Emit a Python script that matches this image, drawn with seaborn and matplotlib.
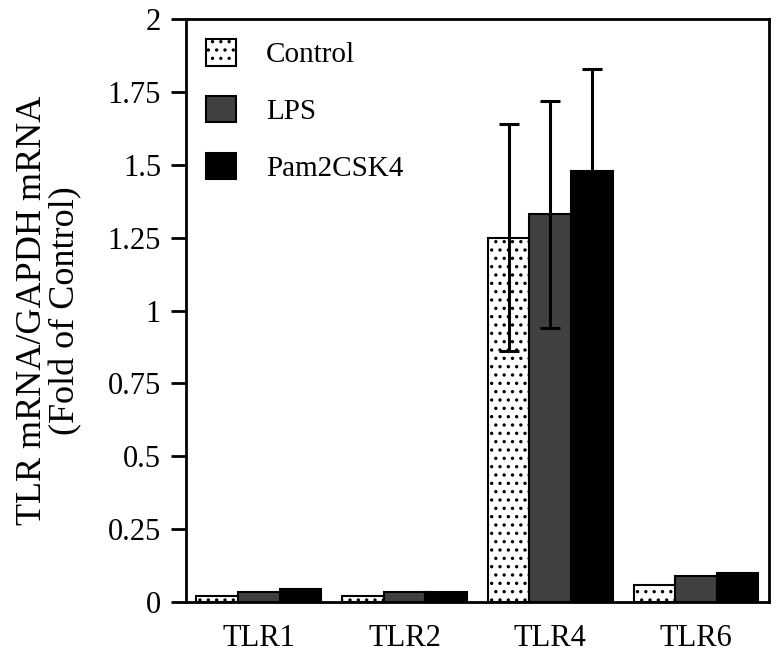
import numpy as np
import pandas as pd
import seaborn as sns
import matplotlib.pyplot as plt
from matplotlib.patches import Patch

sns.set_style("white")
plt.rcParams['font.family'] = ['Liberation Serif', 'DejaVu Serif']
plt.rcParams['hatch.linewidth'] = 1.2
plt.rcParams['text.color'] = 'black'
plt.rcParams['axes.labelcolor'] = 'black'
plt.rcParams['xtick.color'] = 'black'
plt.rcParams['ytick.color'] = 'black'

genes = ["TLR1", "TLR2", "TLR4", "TLR6"]
groups = ["Control", "LPS", "Pam2CSK4"]
control = [0.02, 0.02, 1.25, 0.06]
lps = [0.033, 0.033, 1.33, 0.09]
pam = [0.044, 0.033, 1.48, 0.10]
control_err = [0, 0, 0.39, 0]
lps_err = [0, 0, 0.39, 0]
pam_err = [0, 0, 0.35, 0]
yticks = [0, 0.25, 0.5, 0.75, 1, 1.25, 1.5, 1.75, 2]
ytick_labels = ["0", "0.25", "0.5", "0.75", "1", "1.25", "1.5", "1.75", "2"]

df = pd.DataFrame({
    "gene": genes * 3,
    "group": [g for g in groups for _ in genes],
    "value": control + lps + pam,
})
errs = control_err + lps_err + pam_err

colors = {"Control": "white", "LPS": "#404040", "Pam2CSK4": "black"}

fig = plt.figure(figsize=(7.79, 6.62), dpi=100)
ax = fig.add_axes([0.2388, 0.0906, 0.7482, 0.8807])

sns.barplot(data=df, x="gene", y="value", hue="group", order=genes,
            hue_order=groups, palette=colors, errorbar=None, width=0.857,
            edgecolor="black", linewidth=1.5, legend=False, ax=ax)

bars = ax.patches[:12]
for i, p in enumerate(bars):
    if i < 4:
        p.set_hatch("..")
    if errs[i] > 0:
        cx = p.get_x() + p.get_width() / 2
        ax.errorbar(cx, p.get_height(), yerr=errs[i], color="black",
                    elinewidth=2.2, capsize=7, capthick=2.2, fmt="none")

ax.set_ylim(0, 2)
ax.set_xlim(-0.5, 3.5)
ax.set_yticks(yticks)
ax.set_yticklabels(ytick_labels)
ax.set_xlabel("")
ax.set_ylabel("TLR mRNA/GAPDH mRNA\n(Fold of Control)", fontsize=26, labelpad=18,
              linespacing=1.0)
ax.tick_params(axis="y", direction="out", length=11, width=2, labelsize=22,
               pad=7, left=True)
ax.tick_params(axis="x", length=0, labelsize=22, pad=16)
for s in ax.spines.values():
    s.set_linewidth(2)
    s.set_color("black")

handles = [Patch(facecolor="white", edgecolor="black", hatch="..", linewidth=1.5),
           Patch(facecolor="#404040", edgecolor="black", linewidth=1.5),
           Patch(facecolor="black", edgecolor="black", linewidth=1.5)]
ax.legend(handles, groups, loc="upper left", bbox_to_anchor=(0.0, 1.0),
          frameon=False, fontsize=21, handlelength=1.0, handleheight=1.0,
          handletextpad=1.05, labelspacing=0.95, borderaxespad=0.4, borderpad=0.3)

fig.savefig("out.png", dpi=100)
